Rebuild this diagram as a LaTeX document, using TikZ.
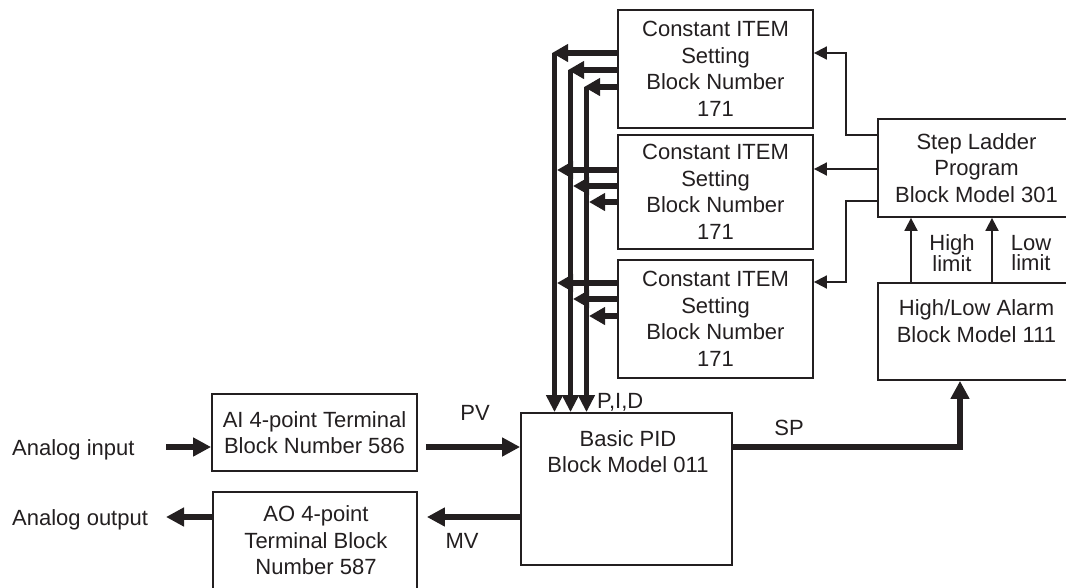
\documentclass[tikz,border=0pt]{standalone}
\usepackage{fontspec}
\setmainfont{Liberation Sans}
\usetikzlibrary{arrows.meta}
\definecolor{ink}{RGB}{35,31,32}
\begin{document}
\begin{tikzpicture}[x=1pt,y=-1pt,
  font=\fontsize{22}{26.5}\selectfont,
  box/.style={draw=ink, line width=1.8pt, rectangle, inner sep=0pt, text=ink, align=center},
  txt/.style={text=ink, align=center, inner sep=0pt},
  conn/.style={draw=ink, line width=1.8pt, -{Triangle[length=13pt,width=13pt]}},
  bus/.style={draw=ink, line width=5.5pt, -{Triangle[length=16pt,width=17pt]}},
  busdown/.style={draw=ink, line width=5.5pt, -{Triangle[length=17pt,width=16pt]}},
  fat/.style={draw=ink, line width=6.5pt, -{Triangle[length=18pt,width=18pt]}},
  plain/.style={draw=ink, line width=1.8pt}
]
\useasboundingbox (0,0) rectangle (1066,587);
\clip (0,0) rectangle (1066,587);

% boxes
\node[box, minimum width=195pt, minimum height=118pt] (c1) at (715.5,69) {Constant ITEM\\Setting\\Block Number\\171};
\node[box, minimum width=195pt, minimum height=114pt] (c2) at (715.5,192) {Constant ITEM\\Setting\\Block Number\\171};
\node[box, minimum width=195pt, minimum height=118pt] (c3) at (715.5,319) {Constant ITEM\\Setting\\Block Number\\171};
\node[box, minimum width=197pt, minimum height=98pt] (sl) at (976.5,168) {Step Ladder\\Program\\Block Model 301};
\node[box, minimum width=197pt, minimum height=97pt] (al) at (976.5,331.5) {};
\node[txt] (alt) at (976.5,321) {High/Low Alarm\\Block Model 111};
\node[box, minimum width=211pt, minimum height=152pt] (pid) at (626.5,489) {};
\node[txt] (pidt) at (628,451.5) {Basic PID\\Block Model 011};
\node[box, minimum width=205pt, minimum height=77pt] (ai) at (314.5,432.5) {AI 4-point Terminal\\Block Number 586};
\node[box, minimum width=204pt, minimum height=108pt] (ao) at (315,546) {};
\node[txt] (aot) at (316,540.5) {AO 4-point\\Terminal Block\\Number 587};

% labels
\node[txt, anchor=base west] (ain) at (12,455) {Analog input};
\node[txt, anchor=base west] (aout) at (12,525) {Analog output};
\node[txt, anchor=base] (pv) at (475,420) {PV};
\node[txt, anchor=base] (mv) at (462,548) {MV};
\node[txt, anchor=base] (sp) at (789,435) {SP};
\node[txt, anchor=base west] (pidl) at (597,408) {P,I,D};
\node[txt, font=\fontsize{22}{20.5}\selectfont] (hl) at (952,253) {High\\limit};
\node[txt, font=\fontsize{22}{20.5}\selectfont] (ll) at (1031,253) {Low\\limit};

% bus coordinates
\coordinate (b1) at (554.5,53);
\coordinate (b2) at (570.5,70);
\coordinate (b3) at (586.5,87);
\coordinate (ainport) at (166,447);
\coordinate (aoutport) at (166,517);
\coordinate (spturn) at (960,447);
\coordinate (jog) at (846,135);

% bus verticals
\draw[busdown] (b1) -- (b1 |- pid.north);
\draw[busdown] (b2) -- (b2 |- pid.north);
\draw[busdown] (b3) -- (b3 |- pid.north);

% box 1 arrows into corners
\draw[bus] (c1.west |- b1) -- ([xshift=-2.5pt]b1);
\draw[bus] (c1.west |- b2) -- ([xshift=-2.5pt]b2);
\draw[bus] (c1.west |- b3) -- ([xshift=-2.5pt]b3);

% box 2 arrows
\draw[bus] (c2.west |- 0,170) -- ([xshift=2.5pt]b1 |- 0,170);
\draw[bus] (c2.west |- 0,186) -- ([xshift=2.5pt]b2 |- 0,186);
\draw[bus] (c2.west |- 0,202) -- ([xshift=2.5pt]b3 |- 0,202);

% box 3 arrows
\draw[bus] (c3.west |- 0,283) -- ([xshift=2.5pt]b1 |- 0,283);
\draw[bus] (c3.west |- 0,299) -- ([xshift=2.5pt]b2 |- 0,299);
\draw[bus] (c3.west |- 0,316) -- ([xshift=2.5pt]b3 |- 0,316);

% step ladder to constant boxes
\draw[conn] (sl.west |- jog) -- (jog) -- (jog |- 0,53) -- (c1.east |- 0,53);
\draw[conn] (sl.west |- 0,169) -- (c2.east |- 0,169);
\draw[conn] (sl.west |- 0,201) -- (jog |- 0,201) -- (jog |- 0,282) -- (c3.east |- 0,282);

% alarm to step ladder
\draw[conn] (911,0 |- al.north) -- (911,0 |- sl.south);
\draw[conn] (992,0 |- al.north) -- (992,0 |- sl.south);

% SP
\draw[fat] (pid.east |- spturn) -- (spturn) -- (spturn |- al.south);

% PV, input
\draw[fat] (ainport) -- (ai.west |- ainport);
\draw[fat] ([xshift=8pt]ai.east |- ainport) -- (pid.west |- ainport);

% MV, output
\draw[fat] (pid.west |- aoutport) -- ([xshift=9pt]ao.east |- aoutport);
\draw[fat] (ao.west |- aoutport) -- (aoutport);
\end{tikzpicture}
\end{document}
